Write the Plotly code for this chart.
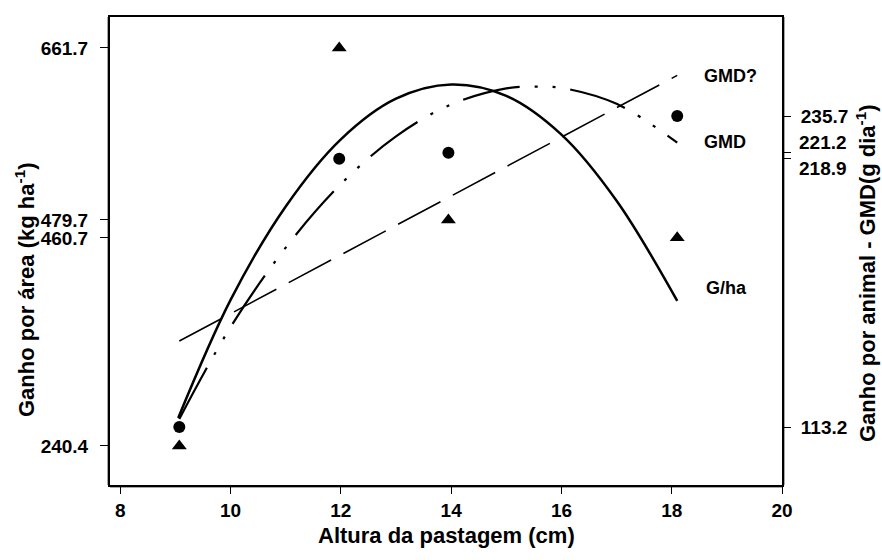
import plotly.graph_objects as go

# Observed means per pasture height
heights = [9.07, 11.97, 13.95, 18.10]
gain_area = [240.4, 661.7, 479.7, 460.7]      # kg/ha
gain_animal = [113.2, 218.9, 221.2, 235.7]    # g/day

# Fitted response curves
fit_x_area = [9.05, 10, 11, 12, 13, 14, 15, 16, 17, 18.1]
fit_area = [270, 395, 494, 565, 608, 623, 611, 570, 500, 394]

fit_x_animal = [9.07, 10, 11, 12, 13, 14, 15, 15.5, 16, 17, 18.1]
fit_animal = [116.4, 152.6, 183.9, 208.9, 227.7, 240.3, 246.6, 247.3, 246.8, 240.5, 225.2]

lin_x_animal = [9.07, 18.1]
lin_animal = [147.1, 251.7]

x_ticks = [8, 10, 12, 14, 16, 18, 20]
left_ticks = [240.4, 460.7, 479.7, 661.7]
right_ticks = [113.2, 218.9, 221.2, 235.7]

FONT = "Liberation Sans, Arial, sans-serif"
BLACK = "#000000"

fig = go.Figure()

fig.add_trace(go.Scatter(
    x=fit_x_area, y=fit_area, mode="lines", line_shape="spline",
    line=dict(color=BLACK, width=2.5), yaxis="y", hoverinfo="skip"))
fig.add_trace(go.Scatter(
    x=fit_x_animal, y=fit_animal, mode="lines", line_shape="spline",
    line=dict(color=BLACK, width=2.2, dash="58px,15px,3px,15px,3px,15px"),
    yaxis="y2", hoverinfo="skip"))
fig.add_trace(go.Scatter(
    x=lin_x_animal, y=lin_animal, mode="lines",
    line=dict(color=BLACK, width=1.6, dash="48px,14px"),
    yaxis="y2", hoverinfo="skip"))
fig.add_trace(go.Scatter(
    x=heights, y=gain_area, mode="markers",
    marker=dict(symbol="triangle-up", size=13, color=BLACK), yaxis="y"))
fig.add_trace(go.Scatter(
    x=heights, y=gain_animal, mode="markers",
    marker=dict(symbol="circle", size=12, color=BLACK), yaxis="y2"))

tick_font = dict(family=FONT, size=19, color=BLACK, weight=700)
label_font = dict(family=FONT, size=18, color=BLACK, weight=700)
title_font = dict(family=FONT, size=22, color=BLACK, weight=700)


def bold(s):
    return f"<b>{s}</b>" if s else ""


fig.update_layout(
    width=882, height=560,
    margin=dict(l=110, r=100, t=17, b=75),
    paper_bgcolor="white", plot_bgcolor="white",
    showlegend=False,
    xaxis=dict(
        range=[7.813, 20.0], tickvals=x_ticks, ticktext=[bold(t) for t in x_ticks],
        ticks="outside", ticklen=7, tickwidth=1, tickcolor=BLACK,
        showline=True, linewidth=2, linecolor=BLACK, mirror=True,
        showgrid=False, zeroline=False, tickfont=tick_font),
    yaxis=dict(
        range=[199.1, 694.5], tickvals=left_ticks,
        ticktext=[bold(f"{v:.1f}") for v in left_ticks],
        ticks="outside", ticklen=8, tickwidth=1, tickcolor=BLACK,
        showline=True, linewidth=2, linecolor=BLACK,
        showgrid=False, zeroline=False, tickfont=tick_font,
        ticklabelstandoff=8),
    yaxis2=dict(
        range=[90.4, 274.7], overlaying="y", side="right", tickvals=right_ticks,
        ticktext=[bold("113.2"), "", "", bold("235.7")],
        ticks="outside", ticklen=7, tickwidth=1, tickcolor=BLACK,
        showline=True, linewidth=2, linecolor=BLACK,
        showgrid=False, zeroline=False, tickfont=tick_font,
        ticklabelstandoff=6),
)

# soft grey edge outside the left, bottom and right frame lines
edge = dict(color="#8a8a8a", width=1.5)
shapes = [
    dict(type="line", xref="paper", xsizemode="pixel", xanchor=0, x0=-2, x1=-2,
         yref="paper", y0=0, y1=1, line=edge, layer="below"),
    dict(type="line", xref="paper", xsizemode="pixel", xanchor=1, x0=2, x1=2,
         yref="paper", y0=0, y1=1, line=edge, layer="below"),
    dict(type="line", yref="paper", ysizemode="pixel", yanchor=0, y0=-2, y1=-2,
         xref="paper", x0=0, x1=1, line=edge, layer="below"),
]

annotations = [
    # close right-axis tick labels, spread apart
    dict(text=bold("221.2"), xref="paper", x=1, xanchor="left", xshift=15,
         yref="y2", y=221.2, yanchor="middle", yshift=10, showarrow=False, font=tick_font),
    dict(text=bold("218.9"), xref="paper", x=1, xanchor="left", xshift=15,
         yref="y2", y=218.9, yanchor="middle", yshift=-10, showarrow=False, font=tick_font),
    # curve labels
    dict(text=bold("GMD?"), xref="x", x=18.55, xanchor="left", yref="y2", y=251.5,
         showarrow=False, font=label_font),
    dict(text=bold("GMD"), xref="x", x=18.55, xanchor="left", yref="y2", y=225.6,
         showarrow=False, font=label_font),
    dict(text=bold("G/ha"), xref="x", x=18.58, xanchor="left", yref="y", y=408.0,
         showarrow=False, font=label_font),
    # axis titles
    dict(text=bold("Altura da pastagem (cm)"), xref="paper", x=0.5, xanchor="center",
         yref="paper", y=0, yanchor="middle", yshift=-50, showarrow=False, font=title_font),
    dict(text=bold("Ganho por área (kg ha<sup>-1</sup>)"), xref="paper", x=0, xshift=-85,
         xanchor="center", yref="paper", y=0.5, yshift=-39, yanchor="middle",
         textangle=-90, showarrow=False, font=title_font),
    dict(text=bold("Ganho por animal - GMD(g dia<sup>-1</sup>)"), xref="paper", x=1, xshift=84,
         xanchor="center", yref="paper", y=0.5, yshift=-22, yanchor="middle",
         textangle=-90, showarrow=False, font=title_font),
]
fig.update_layout(annotations=annotations, shapes=shapes)

fig.write_html("out.html")
